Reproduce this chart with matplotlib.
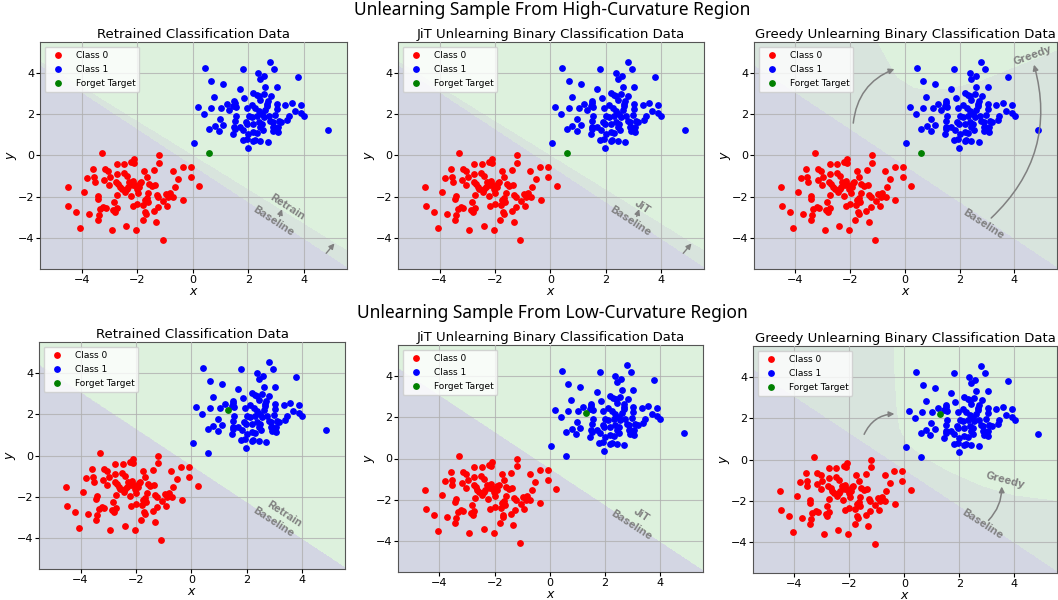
import numpy as np
import matplotlib
matplotlib.use("Agg")
import matplotlib.pyplot as plt

# ---------------- data ----------------
class0_x = [-3.28,-1.20,-4.51,-4.49,-4.20,-4.06,-3.90,-3.80,-3.72,-3.59,-3.55,-3.53,-3.43,-3.41,-3.43,-3.39,-3.34,-3.22,-3.14,-3.16,
            -3.18,-3.04,-3.03,-2.98,-2.92,-2.86,-2.82,-2.80,-2.76,-2.74,-2.74,-2.73,-2.72,-2.68,-2.62,-2.56,-2.47,-2.49,-2.44,-2.40,
            -2.38,-2.38,-2.34,-2.28,-2.23,-2.21,-2.17,-2.16,-2.14,-2.12,-2.10,-2.08,-2.03,-2.02,-2.00,-1.98,-1.92,-1.90,-1.85,-1.81,
            -1.78,-1.75,-1.73,-1.71,-1.68,-1.66,-1.66,-1.62,-1.60,-1.58,-1.48,-1.40,-1.39,-1.36,-1.32,-1.30,-1.25,-1.24,-1.20,-1.08,
            -1.06,-0.96,-0.92,-0.88,-0.82,-0.72,-0.70,-0.65,-0.53,-0.36,-0.35,-0.07,-0.07,0.24]
class0_y = [0.10,0.00,-1.54,-2.44,-2.76,-3.53,-1.78,-1.08,-2.84,-0.66,-1.03,-1.27,-2.10,-1.96,-3.11,-2.87,-2.60,-2.50,-2.55,-0.63,
            -1.19,-0.74,-1.43,-1.03,-3.60,-2.63,-2.23,-2.73,-1.27,-0.39,-0.91,-2.55,-1.91,-1.40,-1.51,-1.64,-0.42,-0.83,-1.75,-3.43,
            -1.00,-1.61,-1.51,-1.27,-1.96,-0.30,-1.43,-2.44,-1.22,-0.35,-0.19,-1.43,-3.60,-1.64,-2.34,-1.80,-1.51,-1.32,-1.27,-3.11,
            -2.41,-0.75,-2.15,-2.76,-2.83,-1.03,-2.07,-2.23,-1.83,-1.38,-1.48,-2.71,-0.71,-1.43,-3.24,-1.91,-2.50,-2.02,-0.34,-4.11,
            -2.22,-1.88,-2.47,-1.99,-1.83,-0.74,-1.99,-1.54,-1.16,-0.58,-2.15,-0.55,-1.03,-1.48]

class1_x = [0.44,1.81,2.36,0.67,1.10,1.70,0.78,2.18,1.86,2.30,1.50,1.51,1.22,0.18,0.66,1.02,1.31,1.46,1.55,1.94,
            2.12,2.25,0.39,1.55,2.01,2.12,2.31,0.97,1.52,1.92,2.18,0.80,1.10,1.50,0.59,0.95,1.52,1.70,1.82,1.96,
            1.46,2.00,2.18,1.79,1.94,2.18,2.24,1.98,0.06,0.59,
            2.79,2.94,2.58,2.43,3.77,2.61,3.03,2.39,2.55,2.82,2.43,2.70,2.67,2.67,3.03,3.33,3.57,3.90,2.37,2.61,
            3.03,3.69,3.90,4.01,3.45,2.97,2.49,2.55,2.73,3.39,2.79,2.87,3.09,3.18,2.37,2.49,2.87,2.90,3.06,3.06,
            2.43,2.51,2.31,2.43,2.70,4.86]
class1_y = [4.24,4.17,3.99,3.62,3.46,3.21,2.85,3.02,2.79,2.92,2.65,2.53,2.51,2.35,2.32,2.30,2.20,2.41,2.36,2.32,
            2.43,2.28,1.99,1.92,1.92,1.85,1.93,1.78,1.66,1.60,1.52,1.41,1.47,1.36,1.29,1.20,1.27,1.38,1.25,1.54,
            1.02,1.05,1.12,0.74,0.78,0.68,0.76,0.35,0.59,0.13,
            4.53,4.17,3.85,3.73,3.81,3.34,3.34,2.89,2.97,2.89,2.70,2.65,2.49,2.38,2.49,2.46,2.54,2.44,2.17,2.22,
            2.25,2.14,2.05,1.89,1.93,1.96,2.00,1.85,1.89,1.72,1.69,1.64,1.69,1.60,1.60,1.52,1.36,1.20,1.36,1.12,
            1.36,1.25,1.09,0.72,0.67,1.25]

# index (in class 1) of the forgotten sample for each row
forget_index = [49, 16]   # high-curvature row, low-curvature row

# linear decision boundaries  y = slope * x + intercept   (class 1 above)
baseline_line = [-0.886, -0.46]
retrain_lines = [[-0.830, 0.05], [-0.890, -0.44]]
jit_lines = [[-0.830, 0.05], [-0.888, -0.45]]

# greedy boundaries (class 1 above the curve), read as vertices
greedy_hi_x = [-5.5, -1.3, -0.98, -0.26, 0.34, 0.94, 1.65, 2.73, 3.93, 5.5]
greedy_hi_y = [8.0, 8.0, 5.5, 3.79, 3.31, 3.18, 3.27, 3.63, 4.27, 5.10]
greedy_lo_x = [-5.5, -0.40, -0.36, -0.30, -0.18, 0.12, 0.72, 1.56, 2.76, 3.96, 5.5]
greedy_lo_y = [8.0, 8.0, 5.5, 2.85, 1.57, 0.77, 0.13, -0.51, -1.23, -1.71, -1.97]

row_titles = ["Unlearning Sample From High-Curvature Region",
              "Unlearning Sample From Low-Curvature Region"]
panel_titles = ["Retrained Classification Data",
                "JiT Unlearning Binary Classification Data",
                "Greedy Unlearning Binary Classification Data"]
model_names = ["Retrain", "JiT", "Greedy"]

# ---------------- style ----------------
col_both0 = "#d3d6e3"
col_mixed = "#d8e4dd"
col_both1 = "#ddf1dd"
ann_color = "#808080"
ann_font = ["Inter", "DejaVu Sans"]

W, H = 1058, 600
fig = plt.figure(figsize=(W / 100, H / 100), dpi=100)

# axes pixel boxes: left, top, right, bottom
boxes = [
    [(40, 42, 347, 269), (398, 42, 704, 269), (754, 42, 1057, 269)],
    [(39, 342, 345, 569), (398, 345, 703, 572), (753, 346, 1057, 573)],
]

gx = np.linspace(-5.5, 5.6, 600)
gy = np.linspace(-5.5, 5.5, 600)
XX, YY = np.meshgrid(gx, gy)
base_cls = (YY > baseline_line[0] * XX + baseline_line[1]).astype(int)

c0x = np.array(class0_x); c0y = np.array(class0_y)
c1x = np.array(class1_x); c1y = np.array(class1_y)


def model_cls(row, col):
    if col == 0:
        s, b = retrain_lines[row]
        return (YY > s * XX + b).astype(int)
    if col == 1:
        s, b = jit_lines[row]
        return (YY > s * XX + b).astype(int)
    if row == 0:
        yb = np.interp(gx, greedy_hi_x, greedy_hi_y)
    else:
        yb = np.interp(gx, greedy_lo_x, greedy_lo_y)
    return (YY > yb[None, :]).astype(int)


def arrow(ax, start, end, rad=0.0, lw=1.1):
    ax.annotate("", xy=end, xytext=start,
                arrowprops=dict(arrowstyle="-|>", color=ann_color, lw=lw,
                                mutation_scale=8, shrinkA=0, shrinkB=0,
                                connectionstyle=f"arc3,rad={rad}"))


def annotate(ax, row, col):
    kw = dict(color=ann_color, fontsize=8, fontweight="bold", family=ann_font,
              ha="center", va="center")
    if col in (0, 1):
        name = model_names[col]
        if row == 0:
            ax.text(3.39 if col == 0 else 3.32, -2.50, name, rotation=-33, **kw)
            ax.text(2.90, -3.19, "Baseline", rotation=-33, **kw)
            arrow(ax, (3.12, -2.95), (3.21, -2.60), lw=1.0)
            arrow(ax, (4.80, -4.74), (5.10, -4.26), lw=1.0)
        else:
            if col == 0:
                ax.text(3.35, -2.82, name, rotation=-33, **kw)
            else:
                ax.text(3.32, -2.72, name, rotation=-33, **kw)
            ax.text(2.96, -3.25, "Baseline", rotation=-33, **kw)
    else:
        if row == 0:
            ax.text(4.65, 4.85, "Greedy", rotation=20, **kw)
            ax.text(2.88, -3.31, "Baseline", rotation=-33, **kw)
            arrow(ax, (-1.88, 1.57), (-0.38, 4.19), rad=-0.3)
            arrow(ax, (3.15, -3.03), (4.71, 4.40), rad=0.3)
        else:
            ax.text(3.66, -0.99, "Greedy", rotation=-15, **kw)
            ax.text(2.85, -3.11, "Baseline", rotation=-33, **kw)
            arrow(ax, (3.06, -2.95), (3.54, -1.31), rad=0.2)
            arrow(ax, (-1.46, 1.22), (-0.36, 2.21), rad=-0.3)


for row in range(2):
    fi = forget_index[row]
    keep = np.ones(len(c1x), bool)
    keep[fi] = False
    for col in range(3):
        l, t, r, b = boxes[row][col]
        wpx, hpx = r - l, b - t
        ax = fig.add_axes([l / W, 1 - b / H, wpx / W, hpx / H])
        mc = model_cls(row, col)
        cat = base_cls + mc
        ax.contourf(XX, YY, cat, levels=[-0.5, 0.5, 1.5, 2.5],
                    colors=[col_both0, col_mixed, col_both1], zorder=0)
        ax.grid(True, color="#b0b0b0", lw=0.8, alpha=0.8, zorder=1)
        ax.set_axisbelow(False)
        ax.scatter(c0x, c0y, s=15, c="red", label="Class 0", zorder=3)
        ax.scatter(c1x[keep], c1y[keep], s=15, c="blue", label="Class 1", zorder=3)
        ax.scatter([c1x[fi]], [c1y[fi]], s=15, c="green", label="Forget Target", zorder=4)
        ax.set_xlim(-5.5, 5.55)
        ax.set_ylim(-5.5, 5.5)
        ax.set_xticks([-4, -2, 0, 2, 4])
        ax.set_yticks([-4, -2, 0, 2, 4])
        ax.tick_params(labelsize=8, length=3, pad=1)
        ax.set_xlabel("$x$", fontsize=9, va="center")
        ax.set_ylabel("$y$", fontsize=9, va="center")
        ax.xaxis.set_label_coords(0.5, -22.5 / hpx)
        ax.yaxis.set_label_coords(-28.0 / wpx, 0.5)
        ax.set_title(panel_titles[col], fontsize=9.5, pad=3)
        for sp in ax.spines.values():
            sp.set_color("#555555")
        ax.legend(loc="upper left", fontsize=6.5, framealpha=0.8, handletextpad=1.0,
                  borderpad=0.45, labelspacing=0.55, edgecolor="#cccccc", fancybox=True)
        annotate(ax, row, col)

fig.text(552 / W, 1 - 10 / H, row_titles[0], ha="center", va="center",
         fontsize=12.5, family=["Noto Sans", "DejaVu Sans"])
fig.text(552 / W, 1 - 313 / H, row_titles[1], ha="center", va="center",
         fontsize=12.5, family=["Noto Sans", "DejaVu Sans"])

fig.savefig("out.png", dpi=100)
